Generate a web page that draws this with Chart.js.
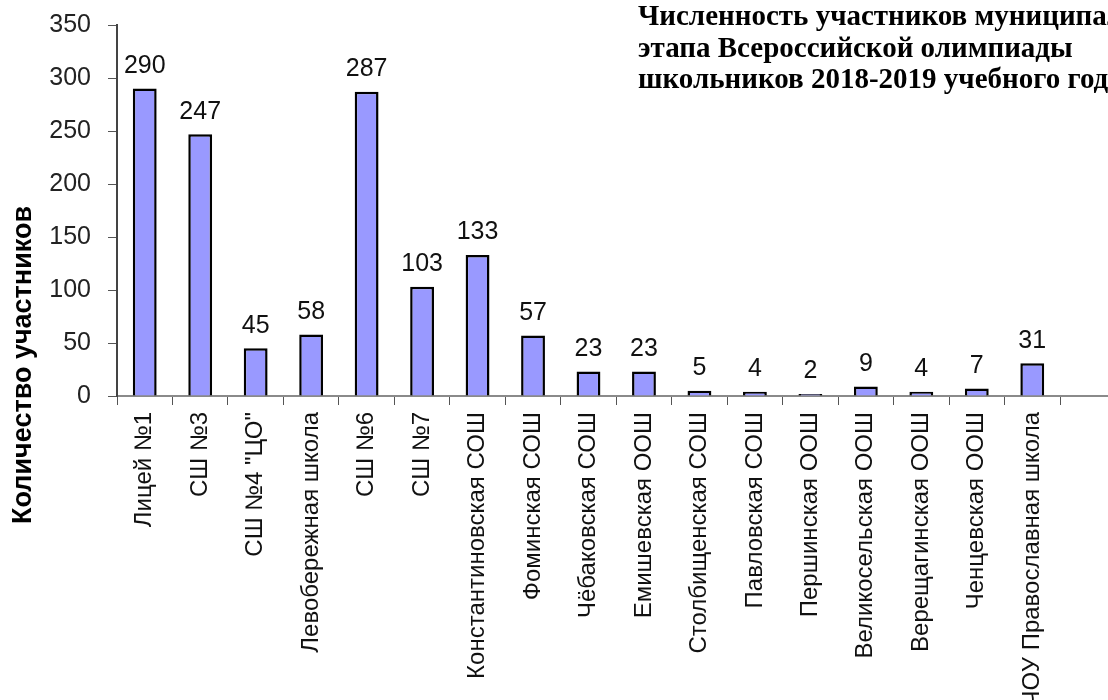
<!DOCTYPE html>
<html>
<head>
<meta charset="utf-8">
<script src="https://cdn.jsdelivr.net/npm/chart.js@4.4.1/dist/chart.umd.min.js"></script>
<style>
html,body{margin:0;padding:0;background:#fff;overflow:hidden;}
canvas{display:block;}
</style>
</head>
<body>
<canvas id="c" width="1108" height="700"></canvas>
<script>
const categories = ["Лицей №1","СШ №3","СШ №4 \"ЦО\"","Левобережная школа","СШ №6","СШ №7","Константиновская СОШ","Фоминская СОШ","Чёбаковская СОШ","Емишевская ООШ","Столбищенская СОШ","Павловская СОШ","Першинская ООШ","Великосельская ООШ","Верещагинская ООШ","Ченцевская ООШ","ЧОУ Православная школа"];
const participants = [290,247,45,58,287,103,133,57,23,23,5,4,2,9,4,7,31];
const yMax = 350;
const yStep = 50;
const titleLines = ["Численность участников муниципального","этапа Всероссийской олимпиады","школьников 2018-2019 учебного года"];
const yAxisTitle = "Количество участников";

const valueLabels = {
  id: 'valueLabels',
  afterDatasetsDraw(chart) {
    const ctx = chart.ctx;
    const meta = chart.getDatasetMeta(0);
    ctx.save();
    ctx.font = '25px "Liberation Sans", Arial, sans-serif';
    ctx.fillStyle = '#111';
    ctx.textAlign = 'center';
    ctx.textBaseline = 'bottom';
    meta.data.forEach((bar, i) => {
      ctx.fillText(String(participants[i]), bar.x, bar.y - 10);
    });
    ctx.restore();
  }
};

const extras = {
  id: 'extras',
  afterDraw(chart) {
    const ctx = chart.ctx;
    const area = chart.chartArea;
    const y0 = chart.scales.y.getPixelForValue(0);
    ctx.save();
    // extend x axis line to the right edge
    ctx.strokeStyle = '#8a8a8a';
    ctx.lineWidth = 2;
    ctx.beginPath();
    ctx.moveTo(area.right, y0);
    ctx.lineTo(chart.width, y0);
    ctx.stroke();
    // title
    ctx.fillStyle = '#000';
    ctx.font = 'bold 29px "Liberation Serif", "Times New Roman", serif';
    ctx.textAlign = 'left';
    ctx.textBaseline = 'middle';
    titleLines.forEach((t, i) => ctx.fillText(t, 638, 18 + i * 31.5));
    // y axis title
    ctx.translate(24, 365);
    ctx.rotate(-Math.PI / 2);
    ctx.font = 'bold 27px "Liberation Sans", Arial, sans-serif';
    ctx.textAlign = 'center';
    ctx.fillText(yAxisTitle, 0, 0);
    ctx.restore();
  }
};

new Chart(document.getElementById('c'), {
  type: 'bar',
  data: {
    labels: categories,
    datasets: [{
      data: participants,
      backgroundColor: '#9999FF',
      borderColor: '#000',
      borderWidth: 2.5,
      barPercentage: 0.43,
      categoryPercentage: 1.0
    }]
  },
  options: {
    responsive: false,
    animation: false,
    layout: { padding: { top: 25, right: 48, left: 0, bottom: 0 } },
    plugins: { legend: { display: false }, tooltip: { enabled: false } },
    scales: {
      x: {
        offset: true,
        grid: { display: true, drawOnChartArea: false, offset: true, tickLength: 9, color: '#555', lineWidth: 1 },
        border: { display: true, color: '#8a8a8a', width: 2 },
        ticks: {
          autoSkip: false, maxRotation: 90, minRotation: 90, padding: 7,
          color: '#111',
          font: { family: '"Liberation Sans", Arial, sans-serif', size: 24 }
        },
        afterFit(scale) { scale.height = 304; }
      },
      y: {
        min: 0, max: yMax,
        grid: { display: true, drawOnChartArea: false, tickLength: 9, color: '#555' },
        border: { display: true, color: '#444', width: 2 },
        ticks: {
          stepSize: yStep, padding: 17, color: '#222',
          font: { family: '"Liberation Sans", Arial, sans-serif', size: 25, lineHeight: 0.6 }
        },
        afterFit(scale) { scale.width = 117; }
      }
    }
  },
  plugins: [valueLabels, extras]
});
</script>
</body>
</html>
